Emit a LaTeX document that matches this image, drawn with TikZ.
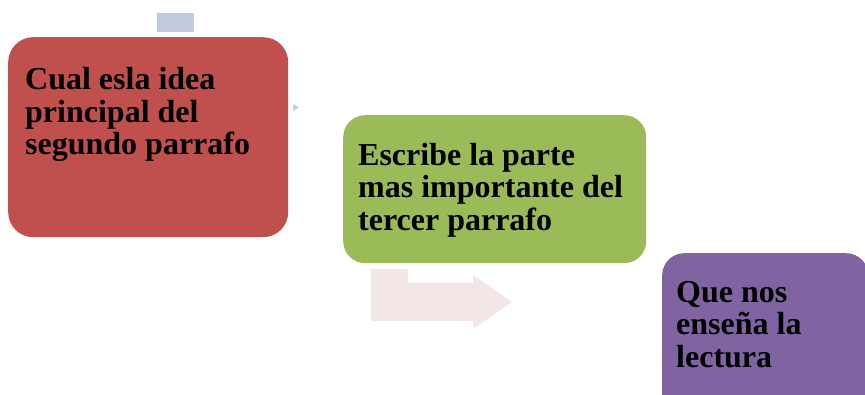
\documentclass[tikz,border=0pt]{standalone}
\usepackage{fontspec}
\setmainfont{Liberation Serif}
\usepackage{tikz}
\usetikzlibrary{positioning}
\definecolor{myred}{RGB}{192,80,77}
\definecolor{mygreen}{RGB}{155,187,89}
\definecolor{mypurple}{RGB}{128,100,162}
\definecolor{myblue}{RGB}{192,203,224}
\definecolor{mypink}{RGB}{242,230,230}
\definecolor{mytri}{RGB}{197,206,230}
\tikzset{
  stepbox/.style={rectangle, rounded corners=22pt, inner sep=0pt,
    anchor=north west},
  boxtext/.style={inner sep=0pt, align=left,
    font=\fontsize{32}{32.5}\selectfont\bfseries}
}

\begin{document}
\begin{tikzpicture}[x=1pt, y=-1pt]
  \useasboundingbox (0,0) rectangle (865,395);
  \clip (0,0) rectangle (865,395);

  % --- STEP 1 ---
  \fill[myblue] (157,13) rectangle (194,32);
  \node[stepbox, fill=myred, rounded corners=25pt, minimum width=280pt, minimum height=200pt] (q1) at (8,37) {};
  \node[boxtext, below right=30.5pt and 17pt of q1.north west] (t1) {Cual esla idea\\principal del\\segundo parrafo};
  \fill[mytri] (293,104) -- (299,107.5) -- (293,111) -- cycle;

  % --- STEP 2 ---
  \node[stepbox, fill=mygreen, minimum width=303pt, minimum height=148pt] (q2) at (343,115) {};
  \node[boxtext, below right=28pt and 15pt of q2.north west] (t2) {Escribe la parte\\mas importante del\\tercer parrafo};
  \fill[mypink] (371,269) -- (408,269) -- (408,283) -- (473,283) -- (473,275)
    -- (512,302) -- (473,329) -- (473,321) -- (371,321) -- cycle;

  % --- STEP 3 ---
  \node[stepbox, fill=mypurple, minimum width=206pt, minimum height=170pt] (q3) at (662,253) {};
  \node[boxtext, below right=28pt and 14pt of q3.north west] (t3) {Que nos\\enseña la\\lectura};
\end{tikzpicture}
\end{document}
